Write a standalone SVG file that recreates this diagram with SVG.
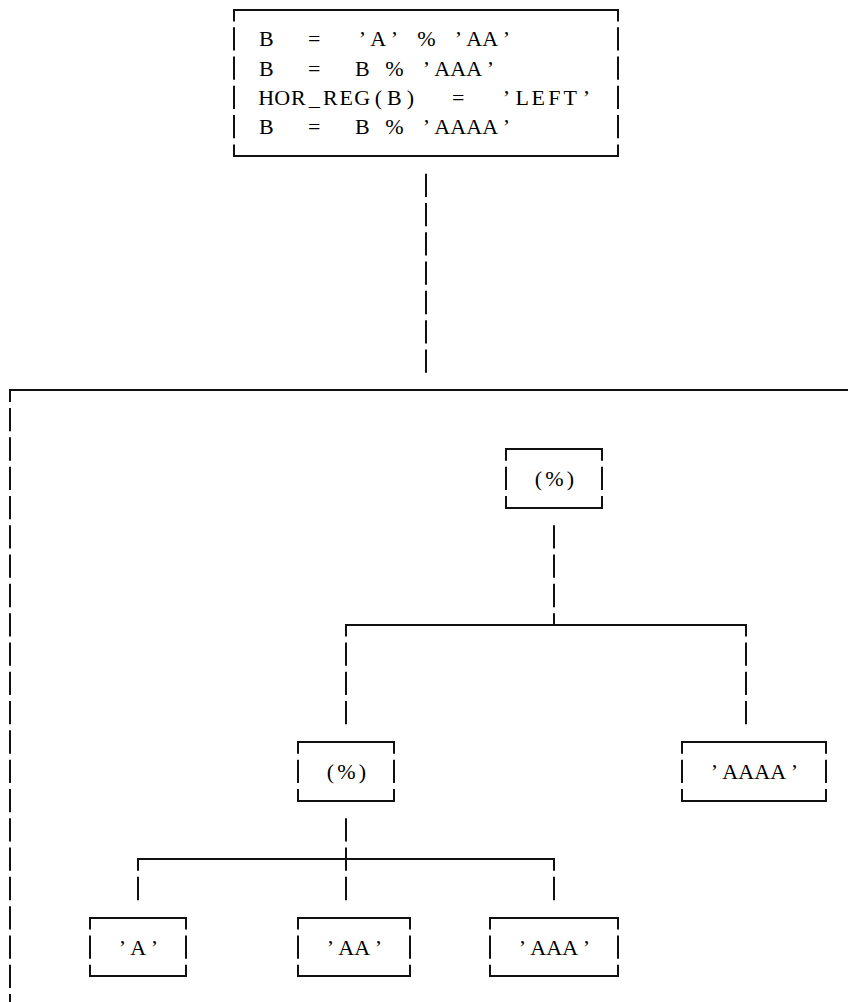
<svg xmlns="http://www.w3.org/2000/svg" width="848" height="1002" viewBox="0 0 848 1002">
<style>
  .ln { fill: none; stroke: #111; stroke-width: 2; stroke-linejoin: miter; }
  .dv { fill: none; stroke: #111; stroke-width: 2; stroke-dasharray: 23.3 6; }
  .tx { font-family: "Liberation Serif", "Times New Roman", serif; font-size: 22px; fill: #000; text-anchor: middle; white-space: pre; }
</style>
<rect x="0" y="0" width="848" height="1002" fill="#ffffff"/>

<g id="frame">
  <path class="ln" d="M10,402 V390 H850"/>
  <line class="dv" x1="10" y1="408.05" x2="10" y2="1010"/>
</g>

<g id="stmt">
  <path class="ln" d="M234,21.5 V10 H618 V21.5 M234,144.5 V156 H618 V144.5"/>
  <line class="dv" x1="234" y1="27.15" x2="234" y2="138.35"/>
  <line class="dv" x1="618" y1="27.15" x2="618" y2="138.35"/>
  <text class="tx" xml:space="preserve" x="266.3 282.3 298.3 314.3 330.3 346.3 362.3 378.3 394.3 410.3 426.3 442.3 458.3 474.3 490.3 506.3" y="46.3">B  =  ’A’ % ’AA’</text>
  <text class="tx" xml:space="preserve" x="266.3 282.3 298.3 314.3 330.3 346.3 362.3 378.3 394.3 410.3 426.3 442.3 458.3 474.3 490.3" y="75.6">B  =  B % ’AAA’</text>
  <text class="tx" xml:space="preserve" x="266.3 282.3 298.3 314.3 330.3 346.3 362.3 378.3 394.3 410.3 426.3 442.3 458.3 474.3 490.3 506.3 522.3 538.3 554.3 570.3 586.3" y="104.9">HOR_REG(B)  =  ’LEFT’</text>
  <text class="tx" xml:space="preserve" x="266.3 282.3 298.3 314.3 330.3 346.3 362.3 378.3 394.3 410.3 426.3 442.3 458.3 474.3 490.3 506.3" y="134.2">B  =  B % ’AAAA’</text>
</g>

<g id="op-root">
  <path class="ln" d="M506,460.65 V449 H602 V460.65 M506,495.95 V508 H602 V495.95 M506,466.65 V489.95 M602,466.65 V489.95"/>
  <text class="tx" x="538.3 554.3 570.3" y="485.8">(%)</text>
</g>

<g id="op-inner">
  <path class="ln" d="M298,753.65 V742 H394 V753.65 M298,788.95 V801 H394 V788.95 M298,759.65 V782.95 M394,759.65 V782.95"/>
  <text class="tx" x="330.3 346.3 362.3" y="778.8">(%)</text>
</g>

<g id="lit-AAAA">
  <path class="ln" d="M682,753.65 V742 H826 V753.65 M682,788.95 V801 H826 V788.95 M682,759.65 V782.95 M826,759.65 V782.95"/>
  <text class="tx" x="714.3 730.3 746.3 762.3 778.3 794.3" y="778.8">’AAAA’</text>
</g>

<g id="lit-A">
  <path class="ln" d="M90,929.45 V918 H186 V929.45 M90,964.75 V976 H186 V964.75 M90,935.45 V958.75 M186,935.45 V958.75"/>
  <text class="tx" x="122.3 138.3 154.3" y="954.6">’A’</text>
</g>

<g id="lit-AA">
  <path class="ln" d="M298,929.45 V918 H410 V929.45 M298,964.75 V976 H410 V964.75 M298,935.45 V958.75 M410,935.45 V958.75"/>
  <text class="tx" x="330.3 346.3 362.3 378.3" y="954.6">’AA’</text>
</g>

<g id="lit-AAA">
  <path class="ln" d="M490,929.45 V918 H618 V929.45 M490,964.75 V976 H618 V964.75 M490,935.45 V958.75 M618,935.45 V958.75"/>
  <text class="tx" x="522.3 538.3 554.3 570.3 586.3" y="954.6">’AAA’</text>
</g>

<g id="connectors">
  <line class="dv" x1="426" y1="173.65" x2="426" y2="372.75"/>
  <line class="dv" x1="554" y1="525.25" x2="554" y2="607.15"/>
  <path class="ln" d="M554,613.15 V625 M346,636.45 V625 H746 V636.45"/>
  <line class="dv" x1="346" y1="642.45" x2="346" y2="724.35"/>
  <line class="dv" x1="746" y1="642.45" x2="746" y2="724.35"/>
  <path class="ln" d="M346,818.25 V841.55 M346,847.55 V870.85 M138,870.85 V859 H554 V870.85"/>
  <path class="ln" d="M138,876.85 V900.15 M346,876.85 V900.15 M554,876.85 V900.15"/>
</g>
</svg>
